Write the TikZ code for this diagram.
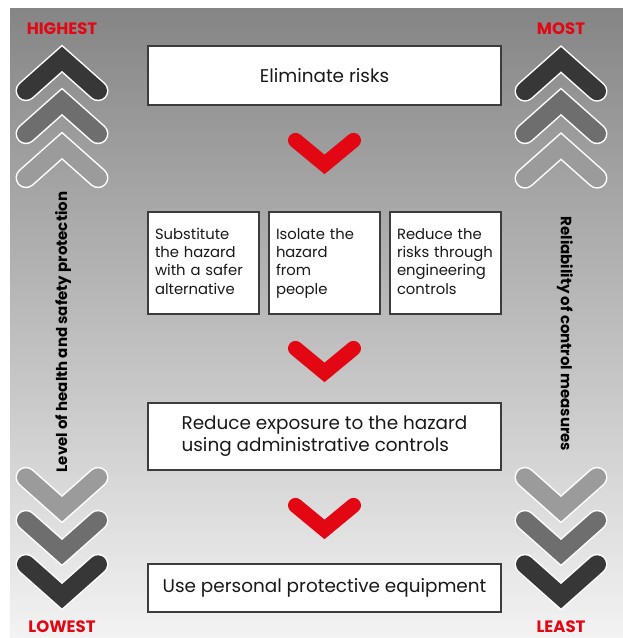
\documentclass[tikz,border=0pt]{standalone}
\usepackage{fontspec}
\setmainfont{Poppins}
\definecolor{redc}{RGB}{227,6,19}
\definecolor{boxline}{RGB}{60,60,60}
\definecolor{chdark}{RGB}{55,55,55}
\definecolor{chmid}{RGB}{110,110,110}
\definecolor{chlight}{RGB}{155,155,155}
\definecolor{bgtop}{RGB}{133,133,133}
\definecolor{bgmid}{RGB}{166,166,166}
\definecolor{bgbot}{RGB}{243,243,243}
\definecolor{txt}{RGB}{25,25,25}
\newcommand{\hsUpChev}[3]{%
  \draw[white, line width=21pt, line cap=round, line join=miter] (#1-36,#2+32) -- (#1,#2) -- (#1+36,#2+32);
  \draw[#3, line width=18pt, line cap=round, line join=miter] (#1-36,#2+32) -- (#1,#2) -- (#1+36,#2+32);}
\newcommand{\hsDownChev}[3]{%
  \draw[white, line width=21pt, line cap=round, line join=miter] (#1-36,#2-32) -- (#1,#2) -- (#1+36,#2-32);
  \draw[#3, line width=18pt, line cap=round, line join=miter] (#1-36,#2-32) -- (#1,#2) -- (#1+36,#2-32);}
\newcommand{\hsRedChev}[2]{%
  \draw[redc, line width=15pt, line cap=round, line join=miter] (#1-29,#2-24) -- (#1,#2) -- (#1+29,#2-24);}
\tikzset{
  box/.style={draw=boxline, line width=1.5pt, fill=white, text=txt, inner sep=0pt},
  bigtxt/.style={font=\fontsize{18.4}{22}\selectfont},
  smallbox/.style={box, minimum width=111pt, minimum height=102pt, text width=97pt, inner xsep=7pt, align=left, font=\fontsize{14.8}{18.3}\selectfont},
  redlab/.style={text=redc, font=\bfseries\fontsize{16.5}{18}\selectfont},
  sidelab/.style={text=black, font=\bfseries\fontsize{15}{17}\selectfont}
}
\begin{document}
\begin{tikzpicture}[x=1pt,y=-1pt]
\useasboundingbox (0,0) rectangle (623,638);
\shade[top color=bgtop, middle color=bgmid, bottom color=bgbot] (10,8) rectangle (623,638);
% left up chevrons
\hsUpChev{62}{58.7}{chdark}
\hsUpChev{62}{101.7}{chmid}
\hsUpChev{62}{145.7}{chlight}
% right up chevrons
\hsUpChev{561}{59.2}{chdark}
\hsUpChev{561}{101.7}{chmid}
\hsUpChev{561}{146.2}{chlight}
% left down chevrons
\hsDownChev{62}{509.3}{chlight}
\hsDownChev{62}{552.3}{chmid}
\hsDownChev{62}{596.3}{chdark}
% right down chevrons
\hsDownChev{561}{509.3}{chlight}
\hsDownChev{561}{552.3}{chmid}
\hsDownChev{561}{596.3}{chdark}
% red chevrons
\hsRedChev{324.5}{164.4}
\hsRedChev{324.5}{372.4}
\hsRedChev{324.5}{529.4}
% labels
\node[redlab] (hi) at (62,29) {HIGHEST};
\node[redlab] (most) at (561,29) {MOST};
\node[redlab] (lo) at (62,627) {LOWEST};
\node[redlab] (least) at (561,627) {LEAST};
\node[sidelab, rotate=90] (lvl) at (63,332) {Level of health and safety protection};
\node[sidelab, rotate=-90] (rel) at (565,334) {Reliability of control measures};
% boxes
\node[box, bigtxt, minimum width=353pt, minimum height=59pt] (elim) at (324.5,75.5) {Eliminate risks};
\node[smallbox] (sub) at (203.5,263) {\strut Substitute\\the hazard\\with a safer\\alternative\strut};
\node[smallbox] (iso) at (324.5,263) {\strut Isolate the\\hazard\\from\\people\strut};
\node[smallbox] (eng) at (445.5,263) {\strut Reduce the\\risks through\\engineering\\controls\strut};
\node[box, bigtxt, minimum width=353pt, minimum height=67pt, align=left] (adm) at (324.5,436.5) {Reduce exposure to the hazard\\using administrative controls};
\node[box, bigtxt, minimum width=353pt, minimum height=48pt] (ppe) at (324.5,588) {Use personal protective equipment};
\end{tikzpicture}
\end{document}
